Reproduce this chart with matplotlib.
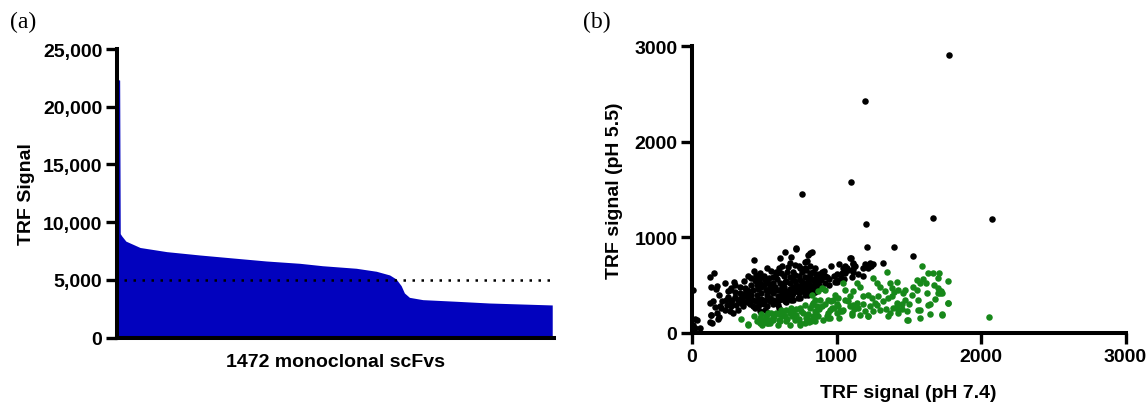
import matplotlib
matplotlib.use('Agg')
import matplotlib.pyplot as plt
from matplotlib.ticker import FuncFormatter

# ---------------- data ----------------
# (a) ranked TRF signal of 1472 clones (key points)
rank_idx = [0, 9, 11, 16, 30, 78, 168, 280, 392, 505, 618, 695, 809,
            877, 922, 944, 961, 972, 989, 1034, 1147, 1259, 1472]
rank_val = [22400, 22300, 9000, 8800, 8350, 7800, 7440, 7150, 6890, 6630, 6430,
            6220, 6000, 5740, 5420, 5070, 4490, 3860, 3480, 3280, 3140, 2990, 2820]
threshold = 5000
n_clones = 1472
a_yticks = [0, 5000, 10000, 15000, 20000, 25000]

# (b) pH 7.4 vs pH 5.5 signals
black_pts = [
    (5, 445), (23, 146), (53, 52), (7, 86), (32, 139), (20, 50),
    (122, 583), (152, 625), (134, 486), (175, 493), (168, 462),
    (122, 312), (145, 330), (157, 271), (192, 285), (203, 260), (226, 236),
    (134, 191), (175, 208), (122, 111), (180, 146), (189, 163), (131, 184), (136, 104),
    (238, 347), (249, 434), (272, 469), (295, 497), (263, 451), (293, 538),
    (261, 226), (284, 208), (318, 243), (272, 278), (307, 295), (341, 312),
    (330, 417), (365, 469), (341, 365), (376, 382), (388, 434), (422, 445),
    (429, 764), (445, 607), (469, 632), (434, 555), (411, 573),
    (469, 521), (503, 555), (526, 521), (514, 451), (480, 417), (457, 347),
    (503, 347), (538, 365), (549, 434),
    (561, 590), (584, 642), (607, 781), (646, 851), (687, 799), (722, 875),
    (618, 625), (664, 695), (711, 712), (745, 677), (780, 747), (803, 816), (791, 660),
    (572, 486), (607, 521), (641, 538), (676, 590), (711, 607), (745, 555),
    (780, 590), (815, 625), (849, 677), (837, 555),
    (561, 347), (595, 382), (630, 399), (664, 434), (699, 469), (734, 451),
    (768, 486), (803, 521), (837, 469), (860, 521),
    (595, 295), (641, 330), (687, 347), (734, 365), (780, 399),
    (434, 260), (469, 226), (503, 243), (526, 208),
    (817, 840), (794, 753), (678, 735), (916, 649), (1002, 538), (1036, 632),
    (1100, 784), (1117, 729), (1197, 718), (1232, 729), (1324, 736),
    (1530, 809), (1071, 680), (1117, 642),
    (828, 851), (1093, 781), (1112, 722), (1047, 677), (1082, 660), (1116, 667),
    (1105, 590), (1058, 625), (1220, 677), (1255, 722),
    (909, 590), (932, 590), (886, 555), (863, 521), (840, 486), (817, 607),
    (990, 538), (1001, 555),
    (400, 300), (420, 350), (450, 400), (480, 480), (500, 300), (520, 400),
    (540, 480), (560, 520), (580, 450), (600, 350), (620, 420), (640, 480),
    (660, 380), (680, 520), (700, 420), (720, 500), (740, 420), (760, 530),
    (780, 450), (800, 560), (820, 500), (840, 420), (860, 580), (880, 500),
    (900, 470), (920, 520), (640, 600), (700, 560), (760, 640), (820, 700),
    (880, 620), (600, 680), (550, 650), (500, 600), (450, 500), (380, 320),
    (350, 280), (420, 280), (470, 300), (520, 280), (560, 300), (600, 260),
    (650, 320), (700, 340), (750, 370), (800, 400), (850, 430), (950, 500),
    (980, 600), (1050, 560), (1150, 620), (1180, 680), (960, 700), (1020, 720),
    (430, 650), (390, 600), (360, 540), (330, 480), (300, 380), (270, 320),
    (240, 290), (210, 330), (190, 400), (230, 520),
    (320, 350), (350, 400), (380, 450), (410, 500), (440, 540), (470, 580),
    (500, 500), (530, 580), (560, 420), (590, 560), (620, 480), (650, 540),
    (680, 460), (710, 540), (740, 600), (770, 520), (800, 470), (830, 560),
    (860, 620), (890, 560), (920, 600), (870, 470), (620, 360), (660, 420),
    (700, 480), (740, 490), (760, 440), (580, 330), (540, 330), (480, 360),
    (440, 330), (410, 400), (390, 360), (370, 420), (460, 460), (520, 450),
    (600, 450), (640, 440), (690, 400), (720, 440), (780, 510), (810, 450),
    (850, 520), (890, 600), (700, 640), (660, 640), (740, 700), (580, 620),
    (520, 680), (620, 700), (780, 680), (840, 640), (900, 640), (950, 560),
    (1000, 620), (1030, 580), (1060, 700), (1130, 700), (1180, 600), (1240, 700),
    (300, 430), (280, 350), (250, 380), (350, 330), (460, 280),
    (1780, 2910), (1200, 2430), (1100, 1583), (763, 1455), (1204, 1135),
    (1666, 1198), (2074, 1190), (722, 893), (1211, 903), (1400, 903),
]
green_pts = [
    (341, 146), (388, 97), (469, 104), (491, 139), (514, 174), (526, 104),
    (549, 208), (561, 132), (584, 208), (595, 87), (618, 243), (641, 174),
    (653, 122), (676, 208), (687, 260), (711, 139), (722, 191), (745, 104),
    (757, 226), (780, 295), (791, 156), (815, 260), (826, 122), (849, 347),
    (860, 208), (828, 399), (840, 312), (851, 226), (828, 139), (840, 174),
    (909, 132), (874, 434), (897, 469), (920, 451), (886, 347), (863, 278),
    (943, 347), (955, 243), (943, 156), (990, 399), (978, 347), (1013, 365),
    (1036, 226), (1001, 208), (1047, 521), (1059, 451), (1093, 382), (1116, 434),
    (1140, 521), (1163, 486), (1093, 278), (1140, 312), (1105, 191), (1163, 191),
    (1197, 226), (1186, 382), (1220, 399), (1243, 365), (1255, 573), (1278, 521),
    (1301, 486), (1220, 174), (1278, 295), (1301, 243), (1267, 312), (1347, 642),
    (1370, 521), (1382, 469), (1336, 434), (1359, 365), (1359, 174), (1393, 260),
    (1416, 312), (1428, 208), (1382, 382), (1416, 538), (1428, 451), (1463, 417),
    (1474, 347), (1486, 226), (1497, 139), (1474, 451), (1532, 486), (1555, 555),
    (1578, 521), (1567, 347), (1578, 243), (1589, 701), (1624, 417), (1636, 295),
    (1636, 625), (1670, 632), (1709, 632), (1705, 469), (1705, 417), (1774, 548),
    (1718, 434), (1728, 416), (1774, 312), (1728, 191), (1578, 156), (1567, 243),
    (1486, 139), (1416, 278), (1428, 243), (1370, 208), (1220, 173),
    (1117, 295), (1105, 208), (1024, 225), (1047, 243), (1013, 278), (955, 156),
    (966, 260), (932, 173), (840, 156), (851, 121), (747, 87), (782, 104),
    (794, 156), (678, 87), (690, 173), (609, 121), (621, 173), (540, 139),
    (563, 156), (517, 104), (471, 156), (482, 87), (528, 208), (390, 87),
    (2058, 163), (1677, 497), (1723, 434), (1714, 413), (1772, 316), (1728, 195),
    (1647, 305),
    (430, 180), (600, 200), (650, 240), (700, 230), (750, 260), (800, 200),
    (880, 250), (920, 300), (960, 330), (1000, 300), (1060, 350), (1150, 260),
    (1250, 230), (1320, 330), (1450, 300), (1520, 400), (1600, 560), (1680, 360),
    (450, 130), (480, 200), (510, 160), (540, 100), (570, 180), (600, 140),
    (630, 210), (660, 150), (690, 210), (720, 250), (740, 150), (770, 210),
    (810, 120), (830, 290), (870, 180), (900, 280), (940, 210), (980, 260),
    (1020, 160), (1080, 330), (1120, 250), (1180, 300), (1230, 280), (1290, 390),
    (1340, 250), (1400, 430), (1450, 250), (1500, 300), (1560, 450), (1620, 520),
    (1650, 200), (1700, 580),
]
black_x = [p[0] for p in black_pts]
black_y = [p[1] for p in black_pts]
green_x = [p[0] for p in green_pts]
green_y = [p[1] for p in green_pts]
b_ticks = [0, 1000, 2000, 3000]

# ---------------- style ----------------
plt.rcParams['font.family'] = ['Liberation Sans', 'DejaVu Sans']
plt.rcParams['font.weight'] = 'bold'
BLUE = '#0202BE'
GREEN = '#17881A'
SPINE_W = 2.9
TICK_W = 2.4
TICK_L = 8.0
FS_TICK = 14
FS_LAB = 14
DOT_S = 22

fig = plt.figure(figsize=(11.48, 4.06), dpi=100)

# ---------------- panel (a) ----------------
ax1 = fig.add_axes([117 / 1148, 1 - 338.5 / 406, (554 - 117) / 1148, (338.5 - 50) / 406])
ax1.fill_between(rank_idx, 0, rank_val, color=BLUE, lw=0)
ax1.plot([22, n_clones], [threshold, threshold], color='black',
         lw=1.8, linestyle=(0, (1, 2.6)))
ax1.set_xlim(0, n_clones + 6)
ax1.set_ylim(0, 25000)
ax1.set_yticks(a_yticks)
ax1.yaxis.set_major_formatter(FuncFormatter(lambda v, p: f'{int(v):,}'))
ax1.set_xticks([])
ax1.set_xlabel('1472 monoclonal scFvs', fontsize=FS_LAB, fontweight='bold', labelpad=11)
ax1.set_ylabel('TRF Signal', fontsize=FS_LAB, fontweight='bold', labelpad=6)

# ---------------- panel (b) ----------------
ax2 = fig.add_axes([692 / 1148, 1 - 334 / 406, (1125.5 - 692) / 1148, (334 - 47) / 406])
ax2.scatter(black_x, black_y, s=DOT_S, color='black', lw=0, zorder=3, clip_on=False)
ax2.scatter(green_x, green_y, s=DOT_S, color=GREEN, lw=0, zorder=3, clip_on=False)
ax2.set_xlim(0, 3000)
ax2.set_ylim(0, 3000)
ax2.set_xticks(b_ticks)
ax2.set_yticks(b_ticks)
ax2.set_xlabel('TRF signal (pH 7.4)', fontsize=FS_LAB, fontweight='bold', labelpad=14)
ax2.set_ylabel('TRF signal (pH 5.5)', fontsize=FS_LAB, fontweight='bold', labelpad=8)

for ax in (ax1, ax2):
    for s in ('top', 'right'):
        ax.spines[s].set_visible(False)
    for s in ('left', 'bottom'):
        ax.spines[s].set_linewidth(SPINE_W)
        ax.spines[s].set_capstyle('projecting')
    ax.tick_params(width=TICK_W, length=TICK_L, labelsize=FS_TICK, direction='out', pad=2.5)
    for lab in ax.get_xticklabels() + ax.get_yticklabels():
        lab.set_fontweight('bold')

fig.text(10 / 1148, 1 - 22 / 406, '(a)', fontsize=17, family='Liberation Serif',
         fontweight='normal', va='center', ha='left')
fig.text(583 / 1148, 1 - 22 / 406, '(b)', fontsize=17, family='Liberation Serif',
         fontweight='normal', va='center', ha='left')

fig.savefig('out.png', dpi=100)
